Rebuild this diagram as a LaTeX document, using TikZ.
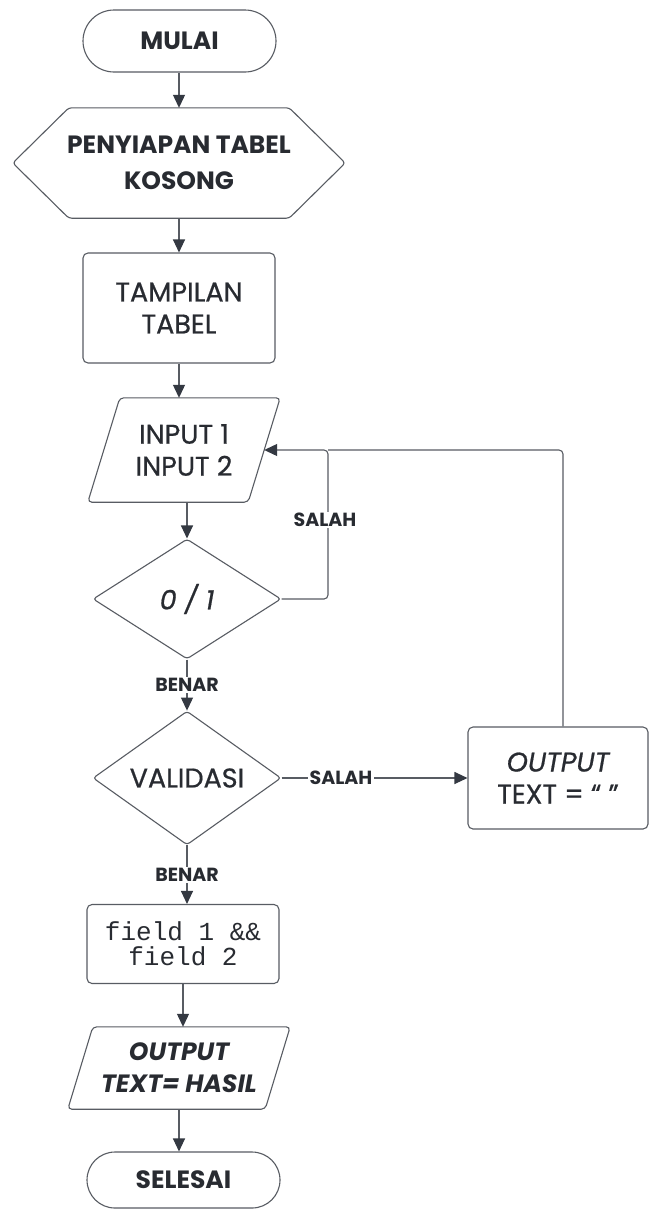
\documentclass[tikz,border=0pt]{standalone}
\usepackage{fontspec}
\setmainfont{Poppins}
\setmonofont{Liberation Mono}
\newfontfamily\medfont{Poppins}[FakeBold=0.7]
\usetikzlibrary{arrows.meta,shapes.geometric,calc}
\definecolor{ln}{RGB}{88,92,99}
\definecolor{tx}{RGB}{40,43,49}
\definecolor{ah}{RGB}{52,57,66}
\tikzset{
  base/.style={text=tx, align=center, inner sep=0pt, font=\medfont\fontsize{27}{32}\selectfont},
  shp/.style={draw=ln, line width=1.1pt},
  term/.style={base, shp, font=\bfseries\fontsize{25}{32}\selectfont},
  boxx/.style={base, shp, rounded corners=5pt},
  dia/.style={base, shp, shape=diamond, rounded corners=3pt},
  lbl/.style={text=tx, fill=white, inner sep=1.5pt, font=\bfseries\fontsize{19}{20}\selectfont},
  arr/.style={draw=ln, line width=1.1pt, -{Triangle[length=13pt,width=12pt,color=ah]}},
  lnk/.style={draw=ln, line width=1.1pt}
}
\begin{document}
\begin{tikzpicture}[x=1pt,y=-1pt]
\useasboundingbox[fill=white] (0,0) rectangle (649,1210);

% nodes
\node[term, minimum width=193pt, minimum height=62pt, rounded corners=31pt] (mulai) at (179.5,41) {MULAI};
\node[base, minimum width=332pt, minimum height=110pt, font=\bfseries\fontsize{25}{36}\selectfont] (hex) at (179,163) {PENYIAPAN TABEL\\KOSONG};
\draw[shp, rounded corners=3pt] (hex.west) -- ([xshift=56]hex.north west) -- ([xshift=-56]hex.north east) -- (hex.east) -- ([xshift=-56]hex.south east) -- ([xshift=56]hex.south west) -- cycle;
\node[boxx, minimum width=192pt, minimum height=110pt] (tampil) at (179,308) {TAMPILAN\\TABEL};
\node[base, minimum width=192pt, minimum height=104pt] (inp) at (184,450) {INPUT 1\\INPUT 2};
\draw[shp, rounded corners=4pt] (inp.south west) -- ([xshift=32]inp.north west) -- (inp.north east) -- ([xshift=-32]inp.south east) -- cycle;
\node[dia, minimum width=188pt, minimum height=120pt] (d01) at (187,599) {\itshape 0 / 1};
\node[dia, minimum width=188pt, minimum height=122pt] (val) at (187,778) {VALIDASI};
\node[boxx, minimum width=180pt, minimum height=102pt] (out1) at (558,778) {\itshape OUTPUT\\TEXT = “ ”};
\node[boxx, minimum width=192pt, minimum height=79pt, font=\ttfamily\fontsize{26}{25}\selectfont] (field) at (183,944) {field 1 \&\&\\field 2};
\node[base, minimum width=222pt, minimum height=82pt, font=\bfseries\itshape\fontsize{25}{32}\selectfont] (outp) at (179,1068) {OUTPUT\\TEXT= HASIL};
\draw[shp, rounded corners=4pt] (outp.south west) -- ([xshift=25]outp.north west) -- (outp.north east) -- ([xshift=-25]outp.south east) -- cycle;
\node[term, minimum width=193pt, minimum height=56pt, rounded corners=28pt] (selesai) at (183.5,1180) {SELESAI};

\coordinate (inpR) at ($(inp.east)+(-16,0)$);
\coordinate (j) at (328,450);

% connectors
\draw[arr] (mulai.south -| hex.north) -- (hex.north);
\draw[arr] (hex.south) -- (tampil.north);
\draw[arr] (tampil.south) -- (tampil.south |- inp.north);
\draw[arr] (d01.north |- inp.south) -- (d01.north);
\draw[lnk, rounded corners=4pt] ([xshift=5]out1.north) |- (j);
\draw[arr, rounded corners=4pt] (d01.east) -| (j) -- (inpR);
\node[lbl] (s1) at (325,520) {SALAH};
\draw[arr] (d01.south) -- (val.north) node[lbl, midway] (b1) {BENAR};
\draw[arr] (val.east) -- (out1.west) node[lbl, pos=0.32] (s2) {SALAH};
\draw[arr] (val.south) -- (val.south |- field.north) node[lbl, midway] (b2) {BENAR};
\draw[arr] (field.south) -- (field.south |- outp.north);
\draw[arr] (outp.south) -- (outp.south |- selesai.north);
\end{tikzpicture}
\end{document}
